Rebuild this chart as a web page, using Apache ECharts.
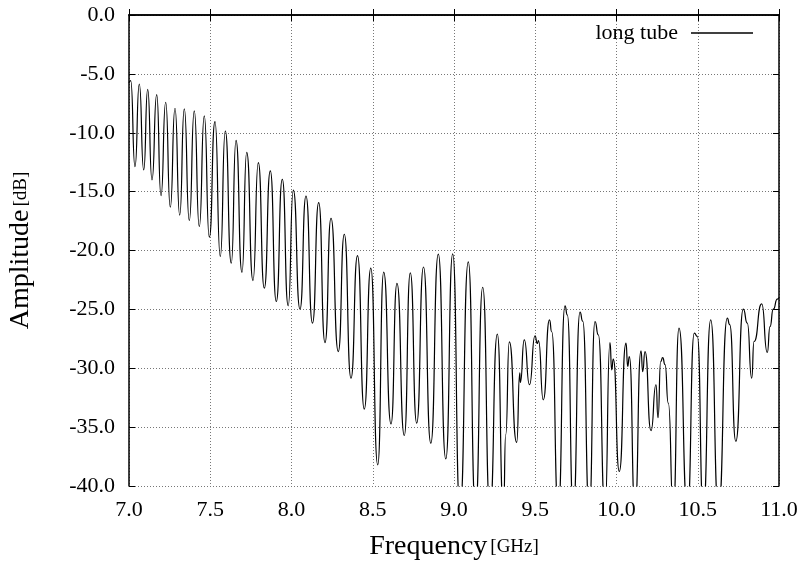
<!DOCTYPE html>
<html>
<head>
<meta charset="UTF-8">
<title>long tube amplitude</title>
<script src="https://cdn.jsdelivr.net/npm/echarts@6/dist/echarts.min.js"></script>
<style type="text/css">
    html,body{margin:0;padding:0;background:#fff;}
    #chart{width:803px;height:563px;}
</style>
</head>
<body>
<div id="chart"></div>
<script>
// values (peaks, troughs and the small kinks between them)
var freq = [
    7.000, 7.0105, 7.0369, 7.0634, 7.0905, 7.1151, 7.1415, 7.1705, 7.1969, 7.2258,
    7.2542, 7.2831, 7.3120, 7.3403, 7.3711, 7.4018, 7.4326, 7.4634, 7.4942, 7.5292,
    7.5618, 7.5926, 7.6295, 7.6585, 7.6954, 7.7243, 7.7631, 7.7957, 7.8326, 7.8695,
    7.9065, 7.9434, 7.9797, 8.0111, 8.0523, 8.0892, 8.1292, 8.1674, 8.2062, 8.2431,
    8.2880, 8.3249, 8.3662, 8.4062, 8.4480, 8.4880, 8.5305, 8.5674, 8.6123, 8.6492,
    8.6942, 8.7311, 8.7705, 8.8123, 8.8572, 8.9034, 8.9495, 8.9920, 9.0369, 9.0880,
    9.1323, 9.1766, 9.2215, 9.2665, 9.3046, 9.3182, 9.3403, 9.3858, 9.4049, 9.4080,
    9.4326, 9.4646, 9.4985, 9.5126, 9.5200, 9.5495, 9.5877, 9.6012, 9.6418, 9.6831,
    9.6972, 9.7342, 9.7754, 9.7920, 9.8326, 9.8677, 9.8880, 9.9292, 9.9600, 9.9705,
    9.9803, 10.0172, 10.0585, 10.0689, 10.0788, 10.1138, 10.1508, 10.1612, 10.1754, 10.2123,
    10.2431, 10.2554, 10.2720, 10.2843, 10.2985, 10.3188, 10.3495, 10.3846, 10.4369, 10.4788,
    10.4972, 10.5342, 10.5797, 10.6277, 10.6818, 10.6966, 10.7342, 10.7803, 10.8049, 10.8320,
    10.8462, 10.8935, 10.9280, 10.9446, 10.9649, 10.9895, 11.000
];
var amp = [
    -5.77, -5.58, -12.88, -5.86, -13.16, -6.31, -14.00, -6.76, -15.34, -7.41,
    -16.32, -7.92, -17.00, -7.98, -17.46, -8.15, -17.97, -8.57, -18.87, -9.05,
    -20.50, -9.85, -21.08, -10.64, -21.85, -11.66, -22.55, -12.54, -23.20, -13.24,
    -24.33, -13.95, -24.70, -14.88, -24.98, -15.37, -26.17, -15.93, -27.82, -17.26,
    -28.58, -18.62, -30.84, -20.43, -33.47, -21.50, -38.20, -21.84, -34.72, -22.80,
    -35.71, -21.90, -34.66, -21.40, -36.36, -20.31, -37.70, -20.29, -42.00, -20.97,
    -42.00, -23.12, -42.00, -27.10, -42.00, -35.65, -27.76, -36.30, -30.40, -31.20,
    -27.59, -31.40, -27.25, -27.90, -27.65, -32.68, -25.89, -26.90, -42.00, -24.70,
    -25.47, -42.00, -25.24, -26.00, -42.00, -26.03, -27.16, -42.00, -27.82, -30.14,
    -29.23, -38.77, -27.87, -29.85, -29.00, -42.00, -28.52, -30.28, -28.58, -35.30,
    -31.40, -34.20, -29.43, -29.10, -29.70, -32.96, -42.00, -26.60, -42.00, -27.02,
    -27.30, -42.00, -25.89, -42.00, -25.75, -26.30, -36.20, -24.98, -26.17, -30.84,
    -27.73, -24.53, -28.66, -26.46, -24.98, -24.13, -24.00
];
var xTicks = [7.0, 7.5, 8.0, 8.5, 9.0, 9.5, 10.0, 10.5, 11.0];
var yTicks = [0, -5, -10, -15, -20, -25, -30, -35, -40];

var seriesName = 'long tube';
var serif = '"Liberation Serif", "DejaVu Serif", serif';

var points = freq.map(function (f, i) { return [f, amp[i]]; });

var chart = echarts.init(document.getElementById('chart'));

var gridStyle = { show: true, lineStyle: { color: '#777', type: [1, 2], width: 1 } };
var frameLine = { show: true, lineStyle: { color: '#000', width: 1.5 } };
var inTicks = { show: true, inside: true, length: 6, lineStyle: { color: '#000', width: 1 } };

var option = {
    animation: false,
    backgroundColor: '#fff',
    textStyle: { fontFamily: serif, color: '#000' },
    grid: { left: 129, right: 24, top: 15, bottom: 77, containLabel: false, outerBoundsMode: 'none' },
    legend: {
        data: [{ name: seriesName, icon: 'rect' }],
        right: 45,
        top: 17,
        align: 'right',
        itemWidth: 62,
        itemHeight: 1.5,
        textStyle: { fontFamily: serif, fontSize: 22, color: '#000', padding: [0, 8, 0, 0] }
    },
    xAxis: [
        {
            type: 'value',
            min: xTicks[0],
            max: xTicks[xTicks.length - 1],
            interval: 0.5,
            axisLine: frameLine,
            axisTick: inTicks,
            splitLine: gridStyle,
            axisLabel: {
                fontFamily: serif, fontSize: 22, color: '#000', margin: 13,
                formatter: function (v) { return v.toFixed(1); }
            },
            name: '{a|Frequency} {b|[GHz]}',
            nameLocation: 'middle',
            nameGap: 47,
            nameTextStyle: {
                rich: {
                    a: { fontFamily: serif, fontSize: 28, color: '#000' },
                    b: { fontFamily: serif, fontSize: 19, color: '#000' }
                }
            }
        },
        {
            type: 'value',
            position: 'top',
            min: xTicks[0],
            max: xTicks[xTicks.length - 1],
            interval: 0.5,
            axisLine: frameLine,
            axisTick: inTicks,
            axisLabel: { show: false },
            splitLine: { show: false }
        }
    ],
    yAxis: [
        {
            type: 'value',
            min: yTicks[yTicks.length - 1],
            max: yTicks[0],
            interval: 5,
            axisLine: frameLine,
            axisTick: inTicks,
            splitLine: gridStyle,
            axisLabel: {
                fontFamily: serif, fontSize: 22, color: '#000', margin: 14,
                formatter: function (v) { return v.toFixed(1); }
            },
            name: '{a|Amplitude} {b|[dB]}',
            nameLocation: 'middle',
            nameGap: 94,
            nameRotate: 90,
            nameTextStyle: {
                rich: {
                    a: { fontFamily: serif, fontSize: 28, color: '#000' },
                    b: { fontFamily: serif, fontSize: 19, color: '#000' }
                }
            }
        },
        {
            type: 'value',
            position: 'right',
            min: yTicks[yTicks.length - 1],
            max: yTicks[0],
            interval: 5,
            axisLine: frameLine,
            axisTick: inTicks,
            axisLabel: { show: false },
            splitLine: { show: false }
        }
    ],
    series: [
        {
            name: seriesName,
            type: 'line',
            data: points,
            symbol: 'none',
            smooth: 0.6,
            smoothMonotone: 'x',
            clip: true,
            lineStyle: { color: '#000', width: 1.2 },
            itemStyle: { color: '#000' }
        }
    ]
};

chart.setOption(option);
</script>
</body>
</html>
